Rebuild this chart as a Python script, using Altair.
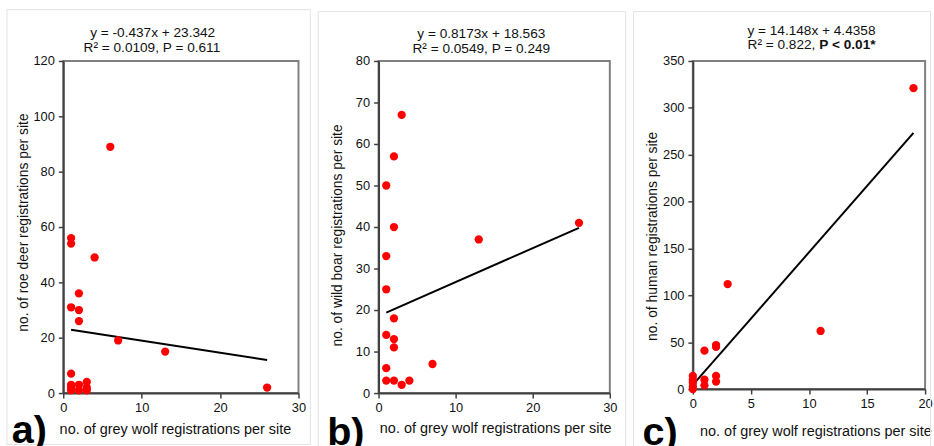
import altair as alt
import pandas as pd

FONT = "Liberation Sans"

# ---------------- data ----------------
a_wolf = [6, 1, 1, 4, 2, 1, 2, 2, 7, 13, 26, 1, 1, 1, 1, 2, 2, 3, 3, 3]
a_roe = [89, 56, 54, 49, 36, 31, 30, 26, 19, 15, 2, 7, 3, 2, 1, 3, 1, 4, 2, 1]

b_wolf = [3, 2, 1, 2, 1, 1, 2, 1, 2, 2, 1, 1, 2, 3, 4, 7, 13, 26]
b_boar = [67, 57, 50, 40, 33, 25, 18, 14, 13, 11, 6, 3, 3, 2, 3, 7, 37, 41]

c_wolf = [19, 3, 11, 1, 2, 2, 2, 2, 1, 1, 0, 0, 0, 0, 0]
c_human = [321, 112, 62, 41, 47, 45, 14, 8, 10, 4, 14, 10, 7, 3, 0]

slopes = [-0.437, 0.8173, 14.148]
intercepts = [23.342, 18.563, 4.4358]

eq_labels = ["y = -0.437x + 23.342", "y = 0.8173x + 18.563", "y = 14.148x  + 4.4358"]
stat_labels = ["R² = 0.0109, P = 0.611", "R² = 0.0549, P = 0.249", "R² = 0.822,"]
stat_bold = ["", "", "P < 0.01*"]
y_titles = [
    "no. of roe deer registrations per site",
    "no. of wild boar registrations per site",
    "no. of human registrations per site",
]
x_title = "no. of grey wolf registrations per site"
panel_labels = ["a)", "b)", "c)"]

x_domains = [[0, 30], [0, 30], [0, 20]]
x_ticks = [[0, 10, 20, 30], [0, 10, 20, 30], [0, 5, 10, 15, 20]]
y_domains = [[0, 120], [0, 80], [0, 350]]
y_ticks = [[0, 20, 40, 60, 80, 100, 120],
           [0, 10, 20, 30, 40, 50, 60, 70, 80],
           [0, 50, 100, 150, 200, 250, 300, 350]]

xs = [a_wolf, b_wolf, c_wolf]
ys = [a_roe, b_boar, c_human]

# ---------------- layout (pixels, relative to each plot area) ----------------
layout = [
    dict(w=238, h=336, frame=(-57, -52, 250, 388), eq=(90.5, -24), st=(89.7, -9),
         stb=None, xt=(113, 41), yt=(-40, 163), lab=(-52, 387)),
    dict(w=234, h=336, frame=(-61, -50, 250, 390), eq=(104, -23.3), st=(104, -8.3),
         stb=None, xt=(118, 40), yt=(-41, 176), lab=(-52, 389)),
    dict(w=235, h=332, frame=(-60, -50, 240.5, 390), eq=(120, -26), st=(124, -11.7),
         stb=(128, -11.7), xt=(124, 47), yt=(-41, 177), lab=(-51, 389)),
]

TXT = "#111111"
one = alt.Data(values=[{"k": 1}])


def panel(i):
    L = layout[i]
    df = pd.DataFrame({"x": xs[i], "y": ys[i]})
    x0, x1 = min(xs[i]), max(xs[i])
    line_df = pd.DataFrame({"x": [x0, x1],
                            "y": [slopes[i] * x0 + intercepts[i], slopes[i] * x1 + intercepts[i]]})

    xenc = alt.X("x:Q",
                 scale=alt.Scale(domain=x_domains[i], nice=False, zero=True),
                 axis=alt.Axis(values=x_ticks[i], grid=False, title=x_title,
                               titleX=L["xt"][0], titleY=L["xt"][1],
                               titleAlign="center", titleBaseline="alphabetic",
                               titleFont=FONT, titleFontSize=14.6, titleFontWeight="normal",
                               titleColor=TXT, labelFont=FONT, labelFontSize=13,
                               labelColor=TXT, labelPadding=4, domainColor="#404040",
                               domainWidth=2, tickColor="#404040", tickWidth=1.5,
                               tickSize=5, labelFlush=False))
    yenc = alt.Y("y:Q",
                 scale=alt.Scale(domain=y_domains[i], nice=False, zero=True),
                 axis=alt.Axis(values=y_ticks[i], grid=False, title=y_titles[i],
                               titleX=L["yt"][0], titleY=L["yt"][1],
                               titleAlign="center", titleBaseline="middle", titleAngle=270,
                               titleFont=FONT, titleFontSize=14, titleFontWeight="normal",
                               titleColor=TXT, labelFont=FONT, labelFontSize=13,
                               labelColor=TXT, labelPadding=4, domainColor="#404040",
                               domainWidth=2, tickColor="#404040", tickWidth=1.5,
                               tickSize=5))

    fl, ft, fr, fb = L["frame"]
    frame = alt.Chart(one).mark_rect(filled=False, stroke="#e3e3e3", strokeWidth=1,
                                     clip=False).encode(
        x=alt.value(fl), x2=alt.value(fr), y=alt.value(ft), y2=alt.value(fb))

    pts = alt.Chart(df).mark_circle(size=70, color="#ff0000", opacity=1).encode(x=xenc, y=yenc)
    reg = alt.Chart(line_df).mark_line(color="black", strokeWidth=2).encode(
        x="x:Q", y="y:Q")

    eq = alt.Chart(one).mark_text(font=FONT, fontSize=13.8, color=TXT, align="center",
                                  baseline="alphabetic").encode(
        x=alt.value(L["eq"][0]), y=alt.value(L["eq"][1]), text=alt.value(eq_labels[i]))
    if L["stb"] is None:
        st = alt.Chart(one).mark_text(font=FONT, fontSize=13.8, color=TXT, align="center",
                                      baseline="alphabetic").encode(
            x=alt.value(L["st"][0]), y=alt.value(L["st"][1]), text=alt.value(stat_labels[i]))
        extra = [st]
    else:
        st = alt.Chart(one).mark_text(font=FONT, fontSize=13.8, color=TXT, align="right",
                                      baseline="alphabetic").encode(
            x=alt.value(L["st"][0]), y=alt.value(L["st"][1]), text=alt.value(stat_labels[i]))
        stb = alt.Chart(one).mark_text(font=FONT, fontSize=13.8, color=TXT, align="left",
                                       fontWeight="bold", baseline="alphabetic").encode(
            x=alt.value(L["stb"][0]), y=alt.value(L["stb"][1]), text=alt.value(stat_bold[i]))
        extra = [st, stb]

    lab = alt.Chart(one).mark_text(font=FONT, fontSize=40, fontWeight="bold", color="black",
                                   align="left", baseline="alphabetic").encode(
        x=alt.value(L["lab"][0]), y=alt.value(L["lab"][1]), text=alt.value(panel_labels[i]))

    return alt.layer(frame, reg, pts, eq, *extra, lab).properties(width=L["w"], height=L["h"])


chart = alt.hconcat(panel(0), panel(1), panel(2), spacing=4).properties(
    padding={"left": 5, "top": 5, "right": 0, "bottom": 0},
    background="white",
).configure_view(stroke="#808080", strokeWidth=2)

chart.save("out.html", embed_options={"renderer": "svg", "actions": False})
